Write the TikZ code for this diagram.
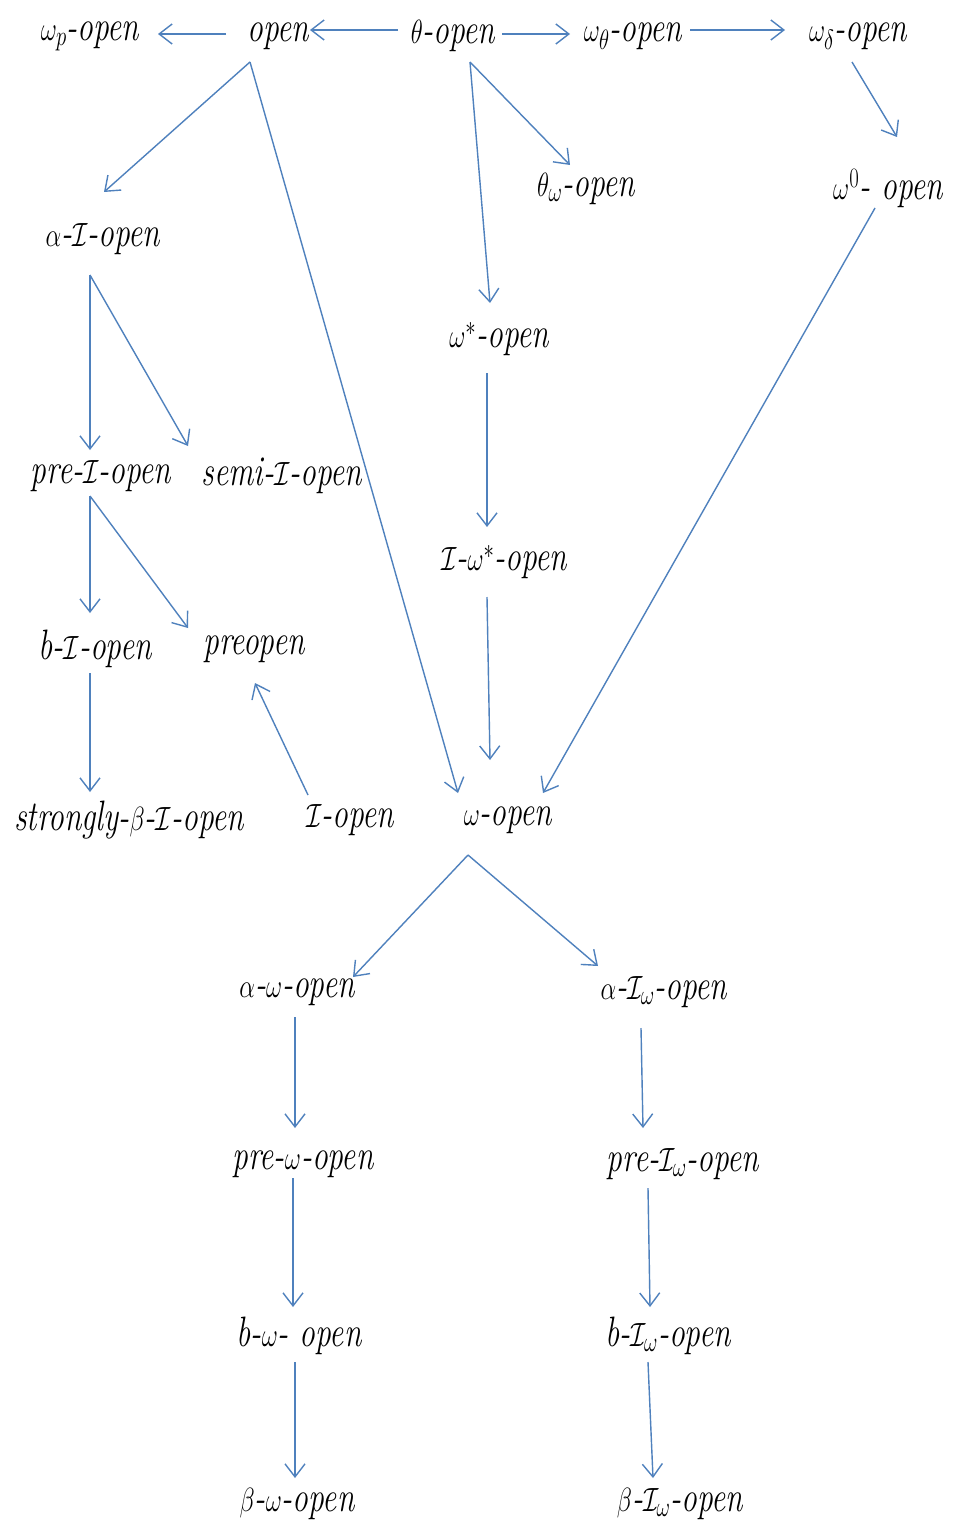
\documentclass[tikz,border=0pt]{standalone}
\usepackage{graphicx}
\usetikzlibrary{arrows.meta}
\definecolor{arrowblue}{RGB}{79,129,189}
\newcommand{\lab}[1]{\scalebox{1}[1.35]{#1}}
\newcommand{\scI}{\mathcal{I}}
\begin{document}
\begin{tikzpicture}[x=1pt,y=-1pt,
  lbl/.style={inner sep=0pt,font=\fontsize{31.5}{38}\selectfont\itshape},
  arr/.style={draw=arrowblue,line width=1.4pt,-{Straight Barb[length=13pt,width=20pt,line width=1.4pt]}}]
\useasboundingbox (0,0) rectangle (953,1525);
\fill[white] (0,0) rectangle (953,1525);
% nodes
\node[lbl] (wp) at (90,36) {\lab{$\omega_p$-open}};
\node[lbl] (open) at (278,36) {\lab{open}};
\node[lbl] (theta) at (453,36) {\lab{$\theta$-open}};
\node[lbl] (wtheta) at (633,36) {\lab{$\omega_\theta$-open}};
\node[lbl] (wdelta) at (858,36) {\lab{$\omega_\delta$-open}};
\node[lbl] (thetaw) at (586,189) {\lab{$\theta_\omega$-open}};
\node[lbl] (w0) at (888,189) {\lab{$\omega^0$- open}};
\node[lbl] (aI) at (103,239) {\lab{$\alpha$-$\scI$-open}};
\node[lbl] (wstar) at (499,339) {\lab{$\omega^*$-open}};
\node[lbl] (preI) at (101,476) {\lab{pre-$\scI$-open}};
\node[lbl] (semiI) at (282,476) {\lab{semi-$\scI$-open}};
\node[lbl] (Iwstar) at (504,562) {\lab{$\scI$-$\omega^*$-open}};
\node[lbl] (bI) at (95,649) {\lab{b-$\scI$-open}};
\node[lbl] (preopen) at (254,649) {\lab{preopen}};
\node[lbl] (strongly) at (129,820) {\lab{strongly-$\beta$-$\scI$-open}};
\node[lbl] (Iopen) at (350,820) {\lab{$\scI$-open}};
\node[lbl] (wopen) at (508,820) {\lab{$\omega$-open}};
\node[lbl] (aw) at (297,992) {\lab{$\alpha$-$\omega$-open}};
\node[lbl] (aIw) at (664,992) {\lab{$\alpha$-$\scI_\omega$-open}};
\node[lbl] (prew) at (303,1164) {\lab{pre-$\omega$-open}};
\node[lbl] (preIw) at (683,1164) {\lab{pre-$\scI_\omega$-open}};
\node[lbl] (bw) at (299,1336) {\lab{b-$\omega$- open}};
\node[lbl] (bIw) at (668,1336) {\lab{b-$\scI_\omega$-open}};
\node[lbl] (betaw) at (297,1504) {\lab{$\beta$-$\omega$-open}};
\node[lbl] (betaIw) at (680,1504) {\lab{$\beta$-$\scI_\omega$-open}};
% connectors
\draw[arr] ([shift={(-52,-2)}]open.center) -- ([shift={(68,-2)}]wp.center);
\draw[arr] ([shift={(-55,-6)}]theta.center) -- ([shift={(32,-6)}]open.center);
\draw[arr] ([shift={(49,-2)}]theta.center) -- ([shift={(-63,-2)}]wtheta.center);
\draw[arr] ([shift={(57,-6)}]wtheta.center) -- ([shift={(-73,-6)}]wdelta.center);
\draw[arr] ([shift={(-28,26)}]open.center) -- ([shift={(1,-47)}]aI.center);
\draw[arr] ([shift={(-28,26)}]open.center) -- ([shift={(-50,-27)}]wopen.center);
\draw[arr] ([shift={(17,26)}]theta.center) -- ([shift={(-16,-24)}]thetaw.center);
\draw[arr] ([shift={(17,26)}]theta.center) -- ([shift={(-9,-36)}]wstar.center);
\draw[arr] ([shift={(-6,26)}]wdelta.center) -- ([shift={(9,-52)}]w0.center);
\draw[arr] ([shift={(-13,19)}]w0.center) -- ([shift={(35,-27)}]wopen.center);
\draw[arr] ([shift={(-13,36)}]aI.center) -- ([shift={(-11,-26)}]preI.center);
\draw[arr] ([shift={(-13,36)}]aI.center) -- ([shift={(-94,-30)}]semiI.center);
\draw[arr] ([shift={(-12,34)}]wstar.center) -- ([shift={(-17,-35)}]Iwstar.center);
\draw[arr] ([shift={(-11,20)}]preI.center) -- ([shift={(-5,-36)}]bI.center);
\draw[arr] ([shift={(-11,20)}]preI.center) -- ([shift={(-66,-21)}]preopen.center);
\draw[arr] ([shift={(-5,24)}]bI.center) -- ([shift={(-39,-28)}]strongly.center);
\draw[arr] ([shift={(-42,-25)}]Iopen.center) -- ([shift={(1,34)}]preopen.center);
\draw[arr] ([shift={(-17,35)}]Iwstar.center) -- ([shift={(-18,-60)}]wopen.center);
\draw[arr] ([shift={(-40,35)}]wopen.center) -- ([shift={(56,-15)}]aw.center);
\draw[arr] ([shift={(-40,35)}]wopen.center) -- ([shift={(-66,-26)}]aIw.center);
\draw[arr] ([shift={(-2,25)}]aw.center) -- ([shift={(-8,-36)}]prew.center);
\draw[arr] ([shift={(-23,36)}]aIw.center) -- ([shift={(-40,-36)}]preIw.center);
\draw[arr] ([shift={(-10,14)}]prew.center) -- ([shift={(-6,-29)}]bw.center);
\draw[arr] ([shift={(-35,24)}]preIw.center) -- ([shift={(-18,-29)}]bIw.center);
\draw[arr] ([shift={(-4,26)}]bw.center) -- ([shift={(-2,-26)}]betaw.center);
\draw[arr] ([shift={(-20,26)}]bIw.center) -- ([shift={(-27,-26)}]betaIw.center);
\end{tikzpicture}
\end{document}
